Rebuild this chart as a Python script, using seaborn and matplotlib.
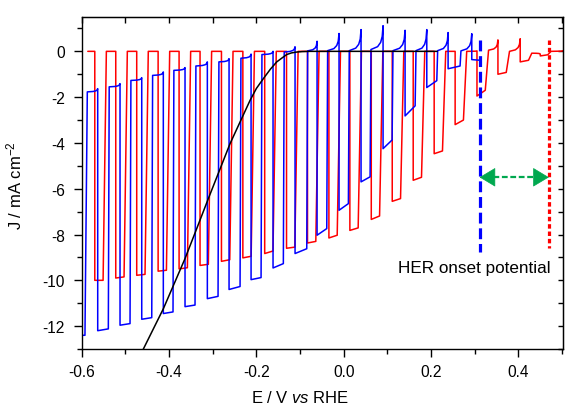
import numpy as np
import pandas as pd
import matplotlib
matplotlib.use("Agg")
import matplotlib.pyplot as plt
import seaborn as sns

# ---------------- data ----------------
# red chopped-light sweep (light-on / light-off potentials, V vs RHE)
red_on = [-0.570, -0.522, -0.474, -0.425, -0.377, -0.329, -0.280, -0.231, -0.181, -0.131, -0.083,
          -0.034, 0.014, 0.063, 0.111, 0.159, 0.207, 0.255, 0.305, 0.353, 0.404, 0.450]
red_off = [-0.551, -0.503, -0.455, -0.406, -0.358, -0.310, -0.261, -0.212, -0.162, -0.112, -0.064,
           -0.015, 0.033, 0.082, 0.130, 0.178, 0.226, 0.274, 0.324, 0.372, 0.423, 0.467]
red_photo_start = [-10.0, -9.9, -9.78, -9.6, -9.5, -9.35, -9.17, -9.02, -8.83, -8.6, -8.37,
                   -8.15, -7.82, -7.34, -6.55, -5.63, -4.47, -3.2, -1.95, -1.0, -0.46, -0.2]
red_photo_end = [-10.0, -9.85, -9.74, -9.56, -9.45, -9.3, -9.1, -8.95, -8.72, -8.55, -8.3,
                 -8.03, -7.71, -7.19, -6.43, -5.5, -4.35, -3.0, -1.7, -0.92, -0.39, -0.15]
red_dark_start = [0.0] * 18 + [0.0, 0.05, 0.0, -0.08]
red_dark_end = [0.0] * 18 + [0.02, 0.5, 0.55, -0.12]
red_first_E = -0.586
red_last = (0.0, 0.03)          # dark current after the last pulse
red_recovery = 0.0075           # width of the light-off transient (V)

# blue chopped-light sweep
blue_init_E = [-0.600, -0.5925]
blue_init_J = -12.4
blue_on = [-0.5633, -0.5122, -0.4625, -0.4131, -0.3634, -0.3123, -0.2626, -0.2122, -0.1619,
           -0.1115, -0.0611, -0.0108, 0.0396, 0.0900, 0.1404, 0.1901, 0.2389, 0.2931]
blue_off = [-0.5390, -0.4893, -0.4396, -0.3909, -0.3405, -0.2878, -0.2374, -0.1893, -0.1383,
            -0.0847, -0.0389, 0.0106, 0.0603, 0.1107, 0.1634, 0.2130, 0.2663, 0.3121]
blue_photo_start = [-12.2, -11.96, -11.70, -11.45, -11.15, -10.80, -10.40, -9.97, -9.46,
                    -8.83, -8.03, -6.94, -5.70, -4.25, -2.82, -1.58, -0.76, -0.36]
blue_photo_end = [-12.12, -11.89, -11.63, -11.38, -11.08, -10.70, -10.27, -9.88, -9.27,
                  -8.62, -7.74, -6.65, -5.48, -3.87, -2.38, -1.28, -0.64, -0.39]
blue_dark_start = [-1.77, -1.55, -1.27, -1.05, -0.83, -0.64, -0.46, -0.30, -0.14,
                   -0.03, 0.02, 0.03, 0.03, 0.08, 0.03, 0.03, 0.03, 0.02]
blue_dark_end = [-1.63, -1.41, -1.15, -0.90, -0.71, -0.46, -0.32, -0.12, 0.0,
                 0.20, 0.44, 0.78, 0.95, 1.12, 0.92, 0.95, 0.82, 0.77]
blue_first_dark_E = -0.5871
blue_recovery = 0.002

# black dark sweep
black_E = [-0.480, -0.4588, -0.413, -0.3634, -0.3366, -0.310, -0.2603, -0.2145, -0.200,
           -0.184, -0.168, -0.1534, -0.140, -0.1305, -0.120, -0.1076, -0.095, -0.077, 0.2137]
black_J = [-13.9, -13.0, -11.24, -9.05, -7.74, -6.43, -4.03, -2.14, -1.62,
           -1.19, -0.78, -0.46, -0.27, -0.14, -0.07, -0.03, -0.01, 0.0, 0.0]

# onset markers
blue_onset = 0.311
red_onset = 0.4695
onset_top = 0.48
blue_onset_bottom = -8.76
red_onset_bottom = -8.6
arrow_J = -5.5
label_text = "HER onset potential"

# ---------------- build chopped-light paths ----------------
SHAPE_T = [0.0, 0.55, 0.8, 0.93, 1.0]
SHAPE_F = [0.0, 0.12, 0.3, 0.55, 1.0]


def dark_segment(e0, e1, j0, j1):
    xs = [e0 + (e1 - e0) * t for t in SHAPE_T]
    ys = [j0 + (j1 - j0) * f for f in SHAPE_F]
    return xs, ys


def chopped(first_E, on, off, pst, pen, dst, den, rec, pre=None, last=None, x_end=None):
    X, Y = [], []
    if pre is not None:
        X += pre[0]
        Y += pre[1]
    e_start = first_E
    for i in range(len(on)):
        xs, ys = dark_segment(e_start, on[i], dst[i], den[i])
        X += xs
        Y += ys
        X += [on[i], off[i]]
        Y += [pst[i], pen[i]]
        e_start = off[i] + rec
    if last is not None:
        xs, ys = dark_segment(e_start, x_end, last[0], last[1])
        X += xs
        Y += ys
    return pd.DataFrame({"E": X, "J": Y})


red_df = chopped(red_first_E, red_on, red_off, red_photo_start, red_photo_end,
                 red_dark_start, red_dark_end, red_recovery, last=red_last, x_end=0.502)
blue_df = chopped(blue_first_dark_E, blue_on, blue_off, blue_photo_start, blue_photo_end,
                  blue_dark_start, blue_dark_end, blue_recovery,
                  pre=(list(blue_init_E), [blue_init_J] * len(blue_init_E)))
black_df = pd.DataFrame({"E": black_E, "J": black_J})

# ---------------- plotting ----------------
sns.set_style("ticks")
plt.rcParams["font.family"] = ["Liberation Sans", "DejaVu Sans"]
plt.rcParams["mathtext.fontset"] = "custom"
plt.rcParams["mathtext.rm"] = "Liberation Sans"
plt.rcParams["mathtext.it"] = "Liberation Sans:italic"
for k in ["text.color", "axes.labelcolor", "xtick.color", "ytick.color", "axes.edgecolor"]:
    plt.rcParams[k] = "black"

fig = plt.figure(figsize=(5.72, 4.10), dpi=100)
ax = fig.add_axes([0.1428, 0.1463, 0.8415, 0.8098])

sns.lineplot(data=red_df, x="E", y="J", sort=False, estimator=None, color="#ff0000", lw=1.1, ax=ax)
sns.lineplot(data=blue_df, x="E", y="J", sort=False, estimator=None, color="#0000ff", lw=1.1, ax=ax)
sns.lineplot(data=black_df, x="E", y="J", sort=False, estimator=None, color="black", lw=1.1, ax=ax)

ax.plot([blue_onset, blue_onset], [onset_top, blue_onset_bottom], color="#0000ff", lw=2.3,
        dashes=(3.4, 1.5))
ax.plot([red_onset, red_onset], [onset_top, red_onset_bottom], color="#ff0000", lw=2.3,
        dashes=(1.4, 0.9))

green = "#00a84f"
ax.plot([blue_onset + 0.012, red_onset - 0.012], [arrow_J, arrow_J], color=green, lw=1.6,
        dashes=(2.6, 1.2))
for tip, tail in [(blue_onset, blue_onset + 0.02), (red_onset, red_onset - 0.02)]:
    ax.annotate("", xy=(tip, arrow_J), xytext=(tail, arrow_J),
                arrowprops=dict(arrowstyle="-|>,head_length=0.75,head_width=0.45", color=green,
                                lw=0.5, shrinkA=0, shrinkB=0, mutation_scale=14))

ax.text(0.300, -9.42, label_text, ha="center", va="center", fontsize=12.3)

ax.set_xlim(-0.6, 0.502)
ax.set_ylim(-13, 1.5)
ax.set_xticks([-0.6, -0.4, -0.2, 0.0, 0.2, 0.4])
ax.set_xticks(np.arange(-0.6, 0.51, 0.1), minor=True)
ax.set_yticks([-12, -10, -8, -6, -4, -2, 0])
ax.set_yticks(np.arange(-13, 1.6, 1), minor=True)
ax.set_yticklabels(["-12", "-10", "-8", "-6", "-4", "-2", "0"])
ax.set_xticklabels(["-0.6", "-0.4", "-0.2", "0.0", "0.2", "0.4"])

ax.tick_params(axis="both", which="major", direction="out", length=6, width=1.0,
               labelsize=11.2, color="black", labelcolor="black")
ax.tick_params(axis="both", which="minor", direction="out", length=3.5, width=1.0, color="black")
ax.tick_params(axis="x", which="major", pad=4.5)
ax.tick_params(axis="y", which="major", pad=6.0)
for s in ax.spines.values():
    s.set_visible(True)
    s.set_linewidth(1.0)
    s.set_color("black")

# mirrored inward ticks on top and right
top = ax.secondary_xaxis("top")
top.set_xticks(np.arange(-0.6, 0.51, 0.1))
top.set_xticklabels([])
top.tick_params(direction="in", length=4, width=1.0, color="black")
right = ax.secondary_yaxis("right")
right.set_yticks(np.arange(-13, 1.6, 1))
right.set_yticklabels([])
right.tick_params(direction="in", length=3.5, width=1.0, color="black")

ax.set_xlabel("")
ax.set_ylabel("")
fig.text(300 / 572, 1 - 398 / 410, r"E / V $\it{vs}$ RHE", ha="center", va="center", fontsize=12)
fig.text(14 / 572, 1 - 186 / 410, r"J / mA cm$^{-2}$", ha="center", va="center", fontsize=12,
         rotation=90)

fig.savefig("out.png", dpi=100)
